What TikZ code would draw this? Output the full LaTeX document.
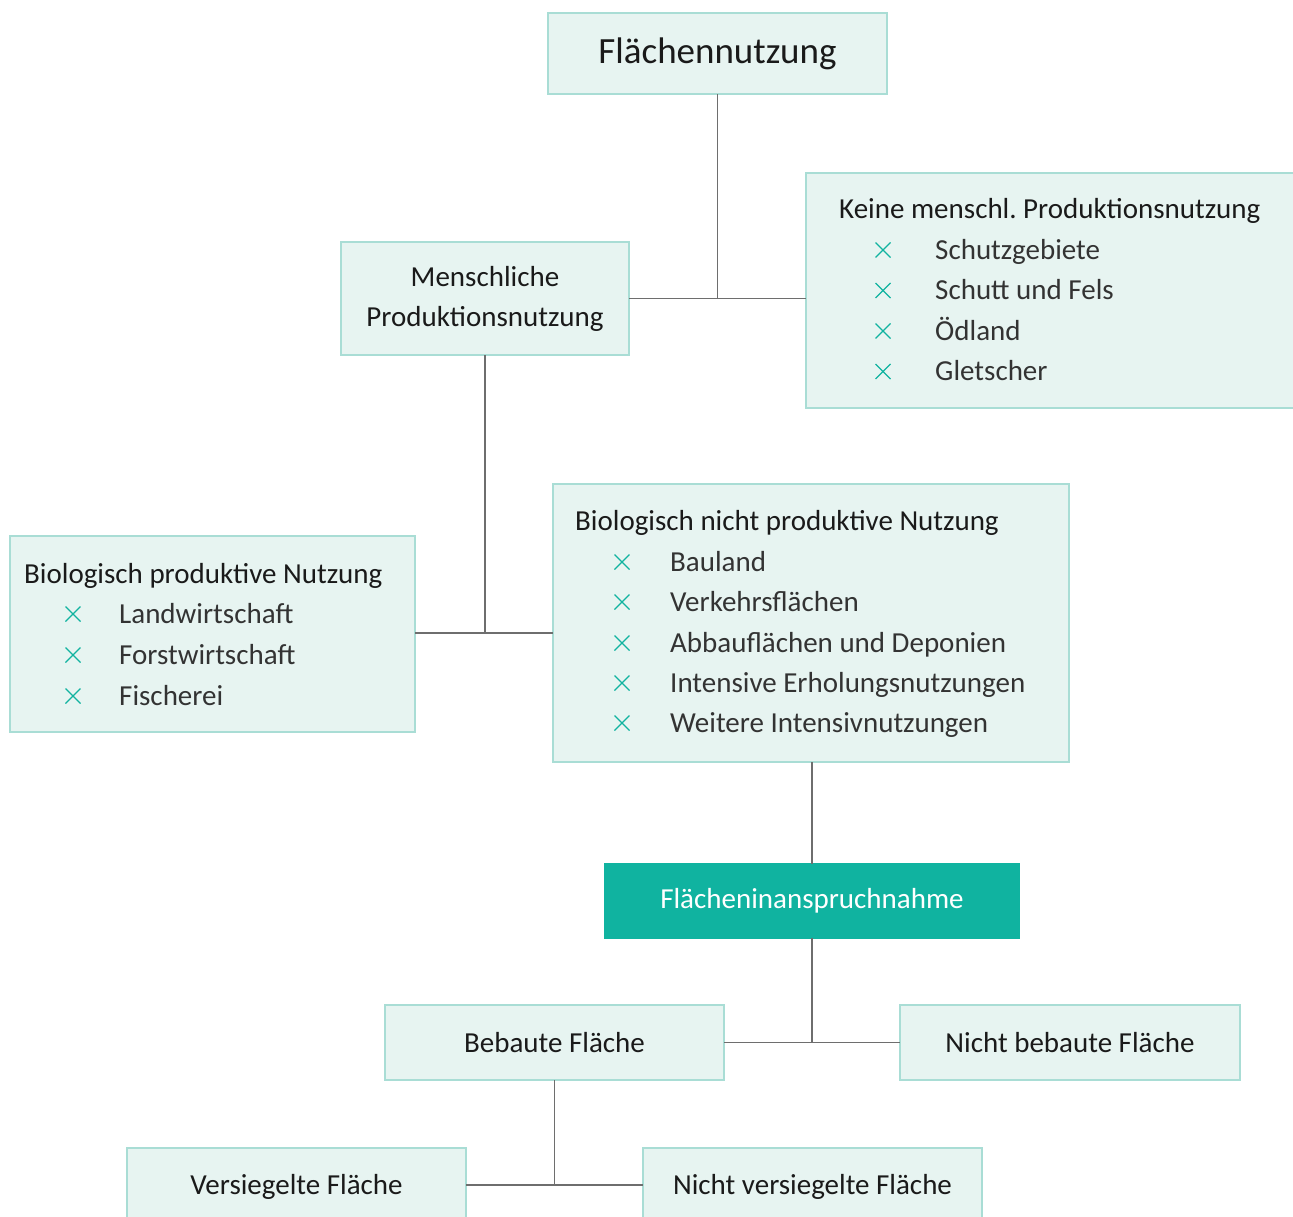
\documentclass[tikz,border=0pt]{standalone}
\usepackage{fontspec}
\setmainfont{Carlito}
\frenchspacing
\definecolor{boxfill}{HTML}{E7F4F1}
\definecolor{boxline}{HTML}{A9DDD5}
\definecolor{accent}{HTML}{10B3A0}
\definecolor{wire}{HTML}{6E6E6E}
\definecolor{ink}{HTML}{1A1A1A}
\definecolor{itemink}{HTML}{333333}
\tikzset{
  box/.style={draw=boxline, fill=boxfill, line width=1.5pt, inner sep=0pt, outer sep=0pt,
    anchor=north west, text=ink, font=\fontsize{29}{40}\selectfont, align=center},
  accentbox/.style={box, draw=accent, fill=accent, text=white},
  head/.style={anchor=base west, inner sep=0pt, text=ink, font=\fontsize{29}{40}\selectfont},
  item/.style={anchor=base west, inner sep=0pt, text=itemink, font=\fontsize{29}{40}\selectfont},
  wireline/.style={draw=wire, line width=1.4pt},
  xm/.pic={\draw[accent, line width=1.3pt] (-7.5,-7.5) -- (7.5,7.5) (-7.5,7.5) -- (7.5,-7.5);}
}
\begin{document}
\begin{tikzpicture}[x=1pt, y=-1pt]
\useasboundingbox (0,0) rectangle (1293,1216);
\begin{scope}
\clip (0,0) rectangle (1293,1216);

% top level
\node[box, minimum width=339, minimum height=81, font=\fontsize{37}{44}\selectfont] (root) at (548,13) {Flächennutzung};

% second level
\node[box, minimum width=288, minimum height=113] (human) at (341,242) {Menschliche\\Produktionsnutzung};
\node[box, minimum width=500, minimum height=235] (nohuman) at (806,173) {};
\node[head] (nohumanT) at (839,218) {Keine menschl. Produktionsnutzung};
\foreach \y/\t in {259/Schutzgebiete, 299.5/Schutt und Fels, 340/Ödland, 380.5/Gletscher}{
  \pic at (883,\y-9) {xm};
  \node[item] at (935,\y) {\t};
}

% third level
\node[box, minimum width=405, minimum height=196] (bioprod) at (10,536) {};
\node[head] (bioprodT) at (24,583) {Biologisch produktive Nutzung};
\foreach \y/\t in {623/Landwirtschaft, 664/Forstwirtschaft, 705/Fischerei}{
  \pic at (73,\y-9) {xm};
  \node[item] at (119,\y) {\t};
}

\node[box, minimum width=516, minimum height=278] (bionon) at (553,484) {};
\node[head] (bionotT) at (575,530) {Biologisch nicht produktive Nutzung};
\foreach \y/\t in {571/Bauland, 611/Verkehrsflächen, 652/Abbauflächen und Deponien, 692/Intensive Erholungsnutzungen, 732/Weitere Intensivnutzungen}{
  \pic at (622,\y-9) {xm};
  \node[item] at (670,\y) {\t};
}

% land take
\node[accentbox, minimum width=414, minimum height=74] (take) at (605,864) {Flächeninanspruchnahme};

\node[box, minimum width=339, minimum height=75] (built) at (385,1005) {Bebaute Fläche};
\node[box, minimum width=340, minimum height=75] (unbuilt) at (900,1005) {Nicht bebaute Fläche};

\node[box, minimum width=339, minimum height=90, text depth=0pt] (sealed) at (127,1148) {};
\node[box, minimum width=339, minimum height=90, text depth=0pt] (unsealed) at (643,1148) {};
\node[head, anchor=base] at (296.5,1194) {Versiegelte Fläche};
\node[head, anchor=base] at (812.5,1194) {Nicht versiegelte Fläche};

% connectors
\coordinate (j1) at (root.south |- human.east);
\draw[wireline] (root.south) -- (j1);
\draw[wireline] (human.east) -- (nohuman.west |- human.east);

\coordinate (j2) at (human.south |- 0,633);
\draw[wireline] (human.south) -- (j2);
\draw[wireline] (bioprod.east |- j2) -- (bionon.west |- j2);

\draw[wireline] (take.north |- bionon.south) -- (take.north);

\coordinate (j3) at (take.south |- built.east);
\draw[wireline] (take.south) -- (j3);
\draw[wireline] (built.east) -- (unbuilt.west);

\coordinate (j4) at (built.south |- 0,1185);
\draw[wireline] (built.south) -- (j4);
\draw[wireline] (sealed.east |- j4) -- (unsealed.west |- j4);
\end{scope}
\end{tikzpicture}
\end{document}
